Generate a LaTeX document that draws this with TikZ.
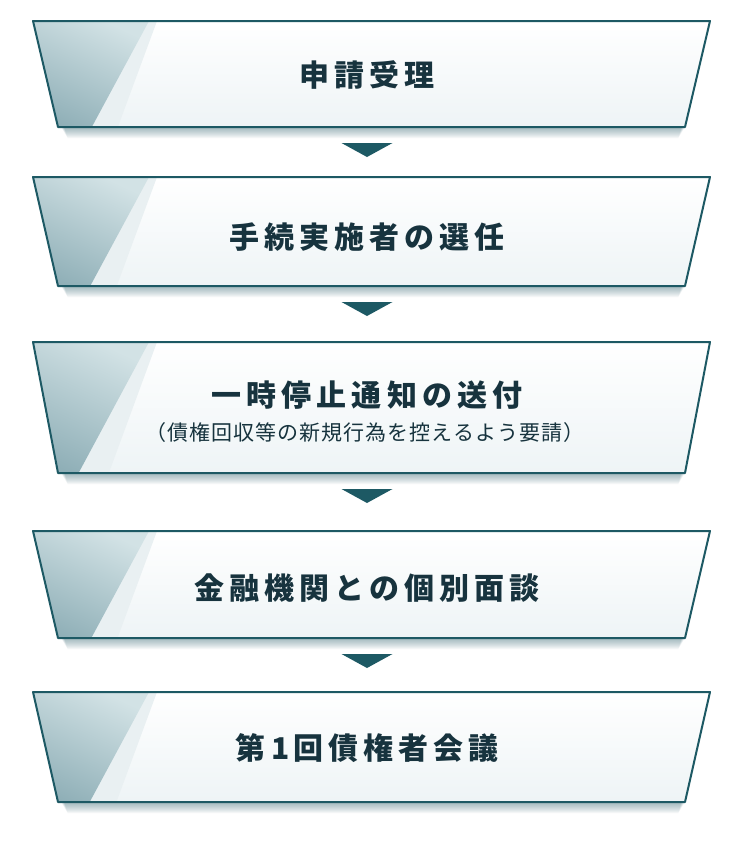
\documentclass[tikz,border=0pt]{standalone}
\usepackage{fontspec}
\newfontfamily\jptitle[LetterSpace=17]{Noto Sans CJK JP}
\newfontfamily\jpsub[LetterSpace=5]{Noto Sans CJK JP}
\definecolor{bordercol}{HTML}{1D5964}
\definecolor{textcol}{HTML}{17333E}
\definecolor{wedgedark}{HTML}{8FAFB7}
\definecolor{wedgelight}{HTML}{D2E2E5}
\definecolor{stripcol}{HTML}{E9F0F2}
\definecolor{fillbot}{HTML}{EEF4F6}
\definecolor{shadowcol}{HTML}{3D6F7A}
\tikzset{
  boxborder/.style={draw=bordercol, line width=2pt, line join=round},
  titletext/.style={font=\jptitle\bfseries\fontsize{30}{34}\selectfont, text=textcol, inner sep=0pt},
  subtext/.style={font=\jpsub\fontsize{21}{25}\selectfont, text=textcol, inner sep=0pt},
  arrowtri/.style={fill=bordercol, draw=none},
}
\newcommand\flowbox[3]{%
  \pgfmathsetmacro\yt{#2}\pgfmathsetmacro\yb{#3}%
  \pgfmathsetmacro\hh{#3-#2}%
  \pgfmathsetmacro\xb{148-0.53*\hh}%
  \pgfmathsetmacro\xs{156-0.36*\hh}%
  \coordinate (#1tl) at (33,\yt);
  \coordinate (#1tr) at (710,\yt);
  \coordinate (#1bl) at (58,\yb);
  \coordinate (#1br) at (685,\yb);
  \coordinate (#1top) at (367,\yt);
  \coordinate (#1bot) at (367,\yb);
  \foreach \i in {1,...,11}{%
    \fill[shadowcol, opacity=0.05] ([xshift=\i*0.3pt, yshift=-\i*1pt]#1tl) -- ([xshift=-\i*0.3pt, yshift=-\i*1pt]#1tr) -- ([xshift=-\i*0.6pt, yshift=-\i*1pt]#1br) -- ([xshift=\i*0.6pt+3pt, yshift=-\i*1pt]#1bl) -- cycle;
  }
  \shade[top color=white, bottom color=fillbot] (#1tl) -- (#1tr) -- (#1br) -- (#1bl) -- cycle;
  \begin{scope}
    \clip (#1tl) -- (#1tr) -- (#1br) -- (#1bl) -- cycle;
    \fill[stripcol] (140,\yt) -- (157,\yt) -- (\xs,\yb) -- (\xb,\yb) -- cycle;
    \shade[top color=wedgelight, bottom color=wedgedark, shading angle=-25] (20,\yt) -- (149,\yt) -- (\xb,\yb) -- (20,\yb) -- cycle;
  \end{scope}
  \draw[boxborder] (#1tl) -- (#1tr) -- (#1br) -- (#1bl) -- cycle;
}
\newcommand\flowarrow[2]{%
  \fill[arrowtri] ([xshift=-25.5pt, yshift=-16pt]#1bot) -- ([xshift=25.5pt, yshift=-16pt]#1bot) -- ([yshift=-30pt]#1bot) -- cycle;
}
\begin{document}
\begin{tikzpicture}[x=1pt, y=-1pt]
  \useasboundingbox[fill=white] (0,0) rectangle (748,846);
  \flowbox{b1}{21}{127}
  \flowbox{b2}{177}{286}
  \flowbox{b3}{342}{473}
  \flowbox{b4}{531}{638}
  \flowbox{b5}{692}{802}
  \node[titletext] (t1) at (367,75) {申請受理};
  \node[titletext] (t2) at (367,237) {手続実施者の選任};
  \node[titletext] (t3) at (367,395) {一時停止通知の送付};
  \node[subtext] (s3) at (365,433) {（債権回収等の新規行為を控えるよう要請）};
  \node[titletext] (t4) at (367,588) {金融機関との個別面談};
  \node[titletext] (t5) at (367,748) {第\hspace{6pt}1\hspace{4pt}回債権者会議};
  \flowarrow{b1}{b2}
  \flowarrow{b2}{b3}
  \flowarrow{b3}{b4}
  \flowarrow{b4}{b5}
\end{tikzpicture}
\end{document}
